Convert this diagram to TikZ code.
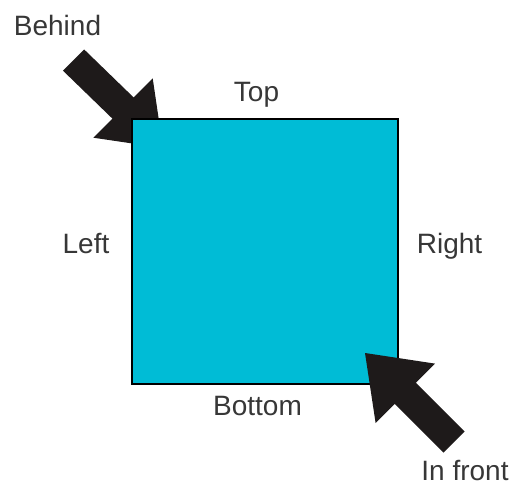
\documentclass[tikz,border=0pt]{standalone}
\usepackage{fontspec}
\setmainfont{Liberation Sans}
\definecolor{boxcyan}{RGB}{0,188,214}
\definecolor{labelgray}{RGB}{55,55,55}
\definecolor{arrowblack}{RGB}{30,26,26}
\begin{document}
\begin{tikzpicture}[x=1pt,y=-1pt,
  lbl/.style={anchor=base,inner sep=0pt,text=labelgray,font=\fontsize{28}{32}\selectfont},
  bigarrow/.style={fill=arrowblack,draw=none}]
\useasboundingbox (0,0) rectangle (513,490);
% behind arrow
\fill[bigarrow] (84.1,49.4) -- (133.6,97.4) -- (152.7,78.3) -- (163,148) -- (93.3,137.7) -- (112.4,118.6) -- (62.9,70.6) -- cycle;
% square
\node[draw=black,line width=2pt,fill=boxcyan,minimum width=266pt,minimum height=265pt,inner sep=0pt,anchor=north west] (sq) at (131,118) {};
% front arrow
\fill[bigarrow] (365,353) -- (435,363.6) -- (415.9,382.7) -- (464.7,431.5) -- (443.5,452.7) -- (394.7,403.9) -- (375.6,423) -- cycle;
% labels
\node[lbl] (behind) at (57.5,35) {Behind};
\node[lbl] (top) at (256.5,101) {Top};
\node[lbl] (left) at (86,253) {Left};
\node[lbl] (right) at (449.5,253) {Right};
\node[lbl] (bottom) at (257.5,415) {Bottom};
\node[lbl] (front) at (465,480) {In front};
\end{tikzpicture}
\end{document}
